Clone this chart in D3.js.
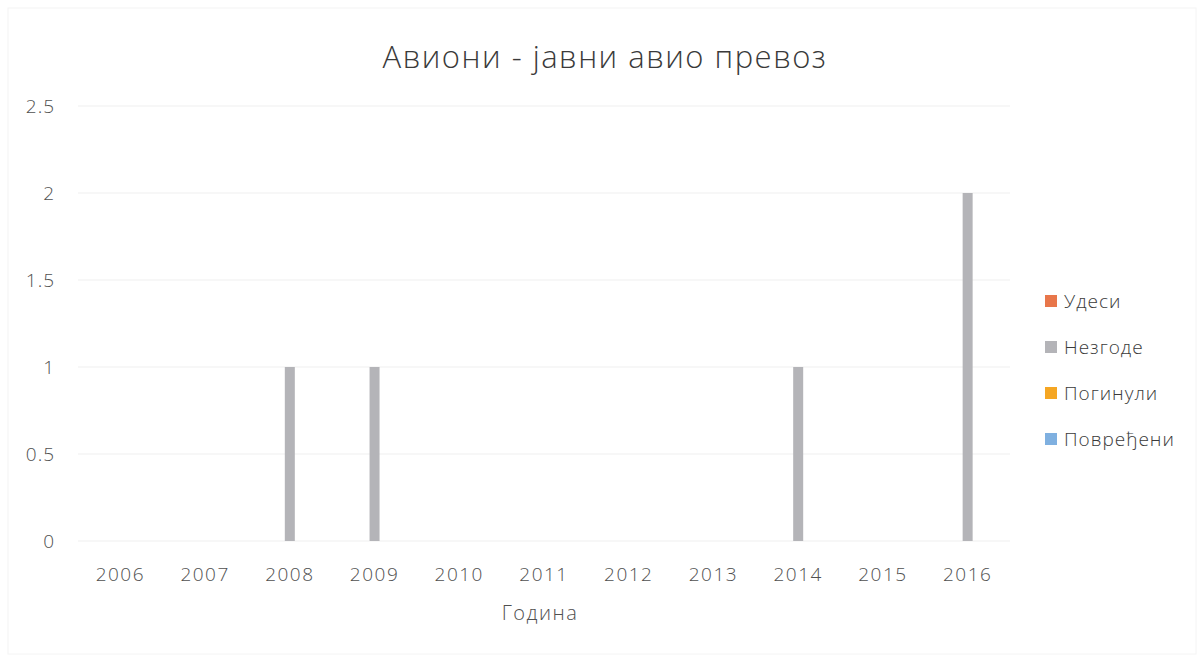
<!DOCTYPE html>
<html><head><meta charset="utf-8">
<script src="https://cdn.jsdelivr.net/npm/d3@7"></script>
<style>body{margin:0;background:#fff}text{font-family:"Open Sans","Noto Sans",sans-serif;}</style>
</head><body><svg id="c" width="1204" height="662"></svg>
<script>
const years = ["2006","2007","2008","2009","2010","2011","2012","2013","2014","2015","2016"];
const seriesNames = ["Удеси","Незгоде","Погинули","Повређени"];
const udesi =    [0,0,0,0,0,0,0,0,0,0,0];
const nezgode =  [0,0,1,1,0,0,0,0,1,0,2];
const poginuli = [0,0,0,0,0,0,0,0,0,0,0];
const povredjeni=[0,0,0,0,0,0,0,0,0,0,0];
const yTicks = [0,0.5,1,1.5,2,2.5];
const colors = ["#e8764a","#b4b4b8","#f5a623","#7fb0e0"];
const seriesVals = [udesi,nezgode,poginuli,povredjeni];

const svg = d3.select("#c");
svg.append("rect").attr("x",8).attr("y",8).attr("width",1188).attr("height",646).attr("fill","#fff").attr("stroke","#f4f4f4");
const x = d3.scaleBand().domain(years).range([78,1010]);
const y = d3.scaleLinear().domain([0,2.5]).range([541,106]);
const x1 = d3.scaleBand().domain(seriesNames).range([-15,25]);

svg.append("g").selectAll("line").data(yTicks).join("line")
  .attr("x1",78).attr("x2",1010).attr("y1",d=>y(d)).attr("y2",d=>y(d))
  .attr("stroke","#f0f0f0").attr("stroke-width",1.2);

const yAxis = svg.append("g").attr("transform","translate(55,0)")
  .call(d3.axisLeft(y).tickValues(yTicks).tickSize(0).tickFormat(d=>String(d)));
yAxis.select(".domain").remove();
yAxis.selectAll("text").attr("font-size",19).attr("letter-spacing","1px").attr("fill","#505050").attr("x",0).attr("font-weight",300);

const xAxis = svg.append("g").attr("transform","translate(0,561)")
  .call(d3.axisBottom(x).tickSize(0));
xAxis.select(".domain").remove();
xAxis.selectAll("text").attr("font-size",19).attr("letter-spacing","1.5px").attr("fill","#505050").attr("dy","0.9em").attr("font-weight",300);

seriesNames.forEach((s,i)=>{
  svg.append("g").selectAll("rect").data(years.map((yr,j)=>({yr,v:seriesVals[i][j]}))).join("rect")
    .attr("x",d=>x(d.yr)+x.bandwidth()/2+x1(s))
    .attr("width",x1.bandwidth())
    .attr("y",d=>y(d.v)).attr("height",d=>y(0)-y(d.v))
    .attr("fill",colors[i]);
});

svg.append("text").attr("x",605).attr("y",68).attr("text-anchor","middle")
  .attr("font-size",31).attr("letter-spacing","1.5px").attr("fill","#3a3a3a").attr("font-weight",300).text("Авиони - јавни авио превоз");
svg.append("text").attr("x",540).attr("y",620).attr("text-anchor","middle")
  .attr("font-size",20).attr("letter-spacing","1.5px").attr("fill","#505050").attr("font-weight",300).text("Година");

const lg = svg.append("g").selectAll("g").data(seriesNames).join("g")
  .attr("transform",(d,i)=>`translate(1045,${301+i*46})`);
lg.append("rect").attr("x",0).attr("y",-6).attr("width",12).attr("height",12).attr("fill",(d,i)=>colors[i]);
lg.append("text").attr("x",19).attr("y",0).attr("dy","0.35em").attr("font-size",19).attr("letter-spacing","1px").attr("fill","#3a3a3a").attr("font-weight",300).text(d=>d);
</script></body></html>
